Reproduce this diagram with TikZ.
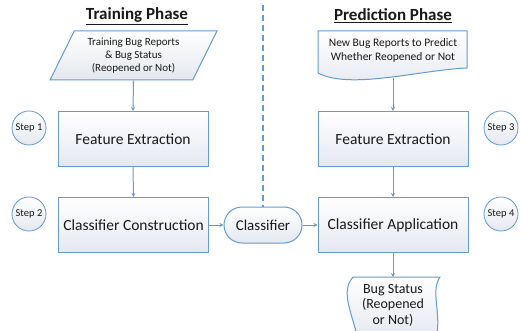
\documentclass[tikz,border=0pt]{standalone}
\usepackage{fontspec}
\setmainfont{Carlito}
\usetikzlibrary{arrows.meta,shapes.geometric}
\definecolor{bord}{RGB}{100,155,210}
\definecolor{fillb}{RGB}{228,232,239}
\definecolor{txt}{RGB}{25,25,25}
\begin{document}
\begin{tikzpicture}[x=1pt,y=-1pt,
  box/.style={draw=bord, line width=1pt, top color=white, bottom color=fillb,
    minimum width=150pt, minimum height=55pt, text=txt,
    font=\fontsize{15.5}{18}\selectfont},
  stepc/.style={circle, draw=bord, line width=0.8pt, top color=white, bottom color=fillb,
    minimum size=34pt, inner sep=0pt, text=txt, font=\fontsize{10.5}{12}\selectfont},
  para/.style={trapezium, trapezium left angle=62, trapezium right angle=118,
    trapezium stretches=true, draw=bord, line width=1pt, top color=white, bottom color=fillb,
    minimum width=167pt, minimum height=49pt, inner sep=0pt, align=center, text=txt,
    font=\fontsize{11}{13}\selectfont},
  capsule/.style={draw=bord, line width=1pt, rounded corners=18pt, top color=white,
    bottom color=fillb, minimum width=78pt, minimum height=36pt, text=txt,
    font=\fontsize{15}{17}\selectfont},
  shapefill/.style={draw=bord, line width=1pt, top color=white, bottom color=fillb},
  plain/.style={text=txt, align=center},
  ttl/.style={text=txt, font=\fontsize{17}{19}\selectfont\bfseries},
  arr/.style={draw=bord, line width=1pt, -{Stealth[length=4pt,width=4pt]}},
  dsh/.style={draw=bord, line width=1.1pt, dash pattern=on 6pt off 4pt}
]
\useasboundingbox (0,0) rectangle (521,331);
\fill[white] (0,0) rectangle (521,331);

% titles
\node[ttl] (t1) at (137,16) {\underline{Training Phase}};
\node[ttl] (t2) at (393,16) {\underline{Prediction Phase}};

% shaped backgrounds
\path[shapefill] (318,31) -- (467,31) -- (467,68) .. controls (420,70) and (350,90) .. (318,73) -- cycle;
\path[shapefill] (353,277) -- (440,277) .. controls (430,292) and (442,312) .. (436,340)
  -- (358,340) .. controls (352,312) and (340,292) .. (353,277) -- cycle;

% nodes
\node[para] (train) at (133.5,55.5) {Training Bug Reports\\\& Bug Status\\(Reopened or Not)};
\node[plain, font=\fontsize{11.5}{14}\selectfont] (newbug) at (393,50) {New Bug Reports to Predict\\Whether Reopened or Not};
\coordinate (nbbot) at (393,78);

\node[box] (fe1) at (133,139) {Feature Extraction};
\node[box] (cc) at (133.5,225) {Classifier Construction};
\node[box] (fe2) at (393,139) {Feature Extraction};
\node[box] (ca) at (393,225) {Classifier Application};
\node[capsule] (clf) at (263,225) {Classifier};

\node[plain, font=\fontsize{14}{15.5}\selectfont] (bs) at (393,305) {Bug Status\\(Reopened\\or Not)};
\coordinate (bstop) at (393,277);

\node[stepc] (s1) at (29,128) {Step 1};
\node[stepc] (s2) at (29,214) {Step 2};
\node[stepc] (s3) at (501,128) {Step 3};
\node[stepc] (s4) at (501,214) {Step 4};

% dashed divider
\coordinate (dtop) at (263,5);
\draw[dsh] (dtop) -- (clf.north);

% arrows
\draw[arr] (train.south) -- (fe1.north);
\draw[arr] (fe1.south) -- (cc.north);
\draw[arr] (cc.east) -- (clf.west);
\draw[arr] (clf.east) -- (ca.west);
\draw[arr] (nbbot) -- (fe2.north);
\draw[arr] (fe2.south) -- (ca.north);
\draw[arr] (ca.south) -- (bstop);
\end{tikzpicture}
\end{document}
